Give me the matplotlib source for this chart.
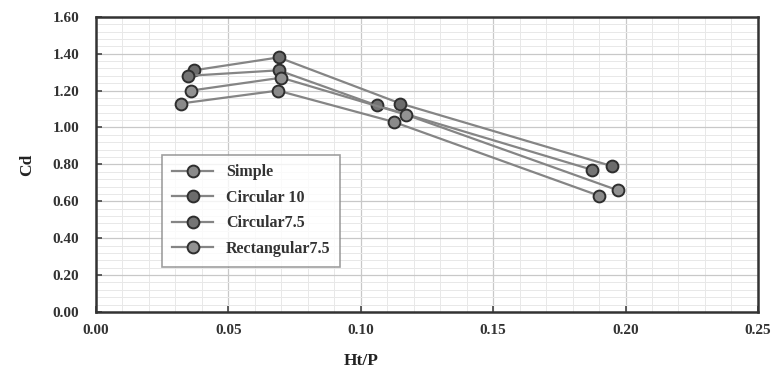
import numpy as np
import matplotlib
matplotlib.use("Agg")
import matplotlib.pyplot as plt
from matplotlib.ticker import MultipleLocator

# Ht/P and Cd for each weir shape
labels = ["Simple", "Circular 10", "Circular7.5", "Rectangular7.5"]
htp_simple = [0.032, 0.0687, 0.1125, 0.190]
cd_simple = [1.13, 1.20, 1.03, 0.63]
htp_circ10 = [0.037, 0.069, 0.115, 0.195]
cd_circ10 = [1.31, 1.38, 1.13, 0.79]
htp_circ75 = [0.0347, 0.069, 0.106, 0.1875]
cd_circ75 = [1.28, 1.31, 1.12, 0.77]
htp_rect75 = [0.0358, 0.070, 0.117, 0.197]
cd_rect75 = [1.20, 1.27, 1.07, 0.66]

series = [
    (htp_simple, cd_simple, "#8a8a8a"),
    (htp_circ10, cd_circ10, "#6c6c6c"),
    (htp_circ75, cd_circ75, "#747474"),
    (htp_rect75, cd_rect75, "#929292"),
]

plt.rcParams["font.family"] = ["Liberation Serif", "DejaVu Serif"]
plt.rcParams["font.weight"] = "bold"

fig = plt.figure(figsize=(7.71, 3.74), dpi=100)
ax = fig.add_axes([0.1245, 0.166, 0.8585, 0.789])

for (xs, ys, fc), lab in zip(series, labels):
    ax.plot(xs, ys, color="#858585", lw=1.6, marker="o", markersize=8.5,
            markerfacecolor=fc, markeredgecolor="#2e2e2e", markeredgewidth=1.4,
            label=lab, zorder=3)

ax.set_xlim(0, 0.25)
ax.set_ylim(0, 1.6)
ax.xaxis.set_major_locator(MultipleLocator(0.05))
ax.xaxis.set_minor_locator(MultipleLocator(0.01))
ax.yaxis.set_major_locator(MultipleLocator(0.2))
ax.yaxis.set_minor_locator(MultipleLocator(0.04))
ax.set_xticklabels([f"{v:.2f}" for v in ax.get_xticks()])
ax.set_yticklabels([f"{v:.2f}" for v in ax.get_yticks()])

ax.grid(which="major", color="#c8c8c8", lw=0.9)
ax.grid(which="minor", color="#e8e8e8", lw=0.7)
ax.set_axisbelow(True)

ax.tick_params(which="major", direction="in", length=4, width=1.2, color="#444444",
               labelsize=11, pad=9)
ax.tick_params(axis="y", pad=12)
ax.tick_params(which="minor", length=0)
for lab in ax.get_xticklabels() + ax.get_yticklabels():
    lab.set_fontweight("bold")
    lab.set_color("#333333")

for sp in ax.spines.values():
    sp.set_linewidth(1.8)
    sp.set_color("#333333")

ax.set_xlabel("Ht/P", fontsize=12.5, fontweight="bold", color="#222222")
ax.xaxis.set_label_coords(0.4, -0.14)
ax.set_ylabel("Cd", fontsize=12.5, fontweight="bold", color="#222222")
ax.yaxis.set_label_coords(-0.092, 0.5)

leg = ax.legend(loc="upper left", bbox_to_anchor=(0.088, 0.56), frameon=True,
                fancybox=False, edgecolor="#888888", fontsize=11.5,
                handlelength=2.6, labelspacing=0.6, borderpad=0.6)
leg.get_frame().set_linewidth(1.2)
for t in leg.get_texts():
    t.set_fontweight("bold")
    t.set_color("#333333")

fig.savefig("out.png", dpi=100)
